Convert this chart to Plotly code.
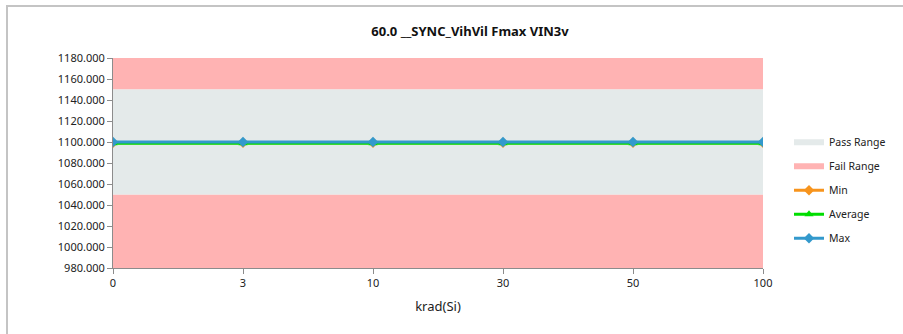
import plotly.graph_objects as go

categories = ["0", "3", "10", "30", "50", "100"]
min_vals = [1099.3, 1099.3, 1099.3, 1099.3, 1099.3, 1099.3]
avg_vals = [1098.9, 1098.9, 1098.9, 1098.9, 1098.9, 1098.9]
max_vals = [1100.0, 1100.0, 1100.0, 1100.0, 1100.0, 1100.0]
pass_low = 1050
pass_high = 1150
axis_min = 980
axis_max = 1180
y_ticks = list(range(980, 1181, 20))

xi = list(range(len(categories)))
x0, x1 = xi[0], xi[-1]

fig = go.Figure()

# Fail range (two bands)
fig.add_trace(go.Scatter(
    x=[x0, x1, x1, x0, x0, None, x0, x1, x1, x0, x0],
    y=[axis_min, axis_min, pass_low, pass_low, axis_min, None,
       pass_high, pass_high, axis_max, axis_max, pass_high],
    fill="toself", fillcolor="#FFB3B3", mode="none", name="Fail Range",
    legendrank=2, legendgroup="f", hoverinfo="skip"))
# Pass range
fig.add_trace(go.Scatter(
    x=[x0, x1, x1, x0, x0],
    y=[pass_low, pass_low, pass_high, pass_high, pass_low],
    fill="toself", fillcolor="#E4EAEA", mode="none", name="Pass Range",
    legendrank=1, legendgroup="p", hoverinfo="skip"))

fig.add_trace(go.Scatter(x=xi, y=min_vals, name="Min", mode="lines+markers",
                         line=dict(color="#F7941D", width=3),
                         marker=dict(symbol="diamond", size=8, color="#F7941D"),
                         legendrank=3, legendgroup="mn"))
fig.add_trace(go.Scatter(x=xi, y=avg_vals, name="Average", mode="lines+markers",
                         line=dict(color="#00DD00", width=3),
                         marker=dict(symbol="triangle-up", size=8, color="#00DD00"),
                         legendrank=4, legendgroup="av"))
fig.add_trace(go.Scatter(x=xi, y=max_vals, name="Max", mode="lines+markers",
                         line=dict(color="#3399CC", width=3),
                         marker=dict(symbol="diamond", size=8, color="#3399CC"),
                         legendrank=5, legendgroup="mx"))

font = "Noto Sans"
fig.update_layout(
    width=903, height=334,
    margin=dict(l=113, r=140, t=58, b=66),
    paper_bgcolor="white", plot_bgcolor="white",
    font=dict(family=font, size=11, color="#222"),
    title=dict(text="<b>60.0 __SYNC_VihVil Fmax VIN3v</b>",
               x=470 / 903, xanchor="center", y=1 - 31 / 334, yanchor="middle",
               font=dict(size=13, family=font, color="#111")),
    showlegend=True,
    legend=dict(x=1.04, y=0.37, xanchor="left", yanchor="middle",
                font=dict(size=10.5), itemwidth=30, tracegroupgap=5,
                bgcolor="rgba(0,0,0,0)"),
    xaxis=dict(range=[x0, x1], tickvals=xi, ticktext=categories,
               showgrid=False, zeroline=False, showline=True, linecolor="#8C8C8C",
               ticks="outside", ticklen=5, tickcolor="#8C8C8C",
               title=dict(text="krad(Si)", font=dict(size=13), standoff=12)),
    yaxis=dict(range=[axis_min, axis_max], tickvals=y_ticks, tickformat=".3f",
               showgrid=False, zeroline=False, showline=True, linecolor="#8C8C8C",
               ticks="outside", ticklen=5, tickcolor="#8C8C8C"),
)

fig.add_shape(type="rect", xref="paper", yref="paper",
              x0=(7 - 113) / 650, x1=1.4, y0=-0.6, y1=(268 - 6) / 210,
              line=dict(color="#C4C4C4", width=2), layer="below")

fig.write_html("out.html", config={"displayModeBar": False},
               post_script="document.body.style.margin='0';document.body.style.overflow='hidden';")
